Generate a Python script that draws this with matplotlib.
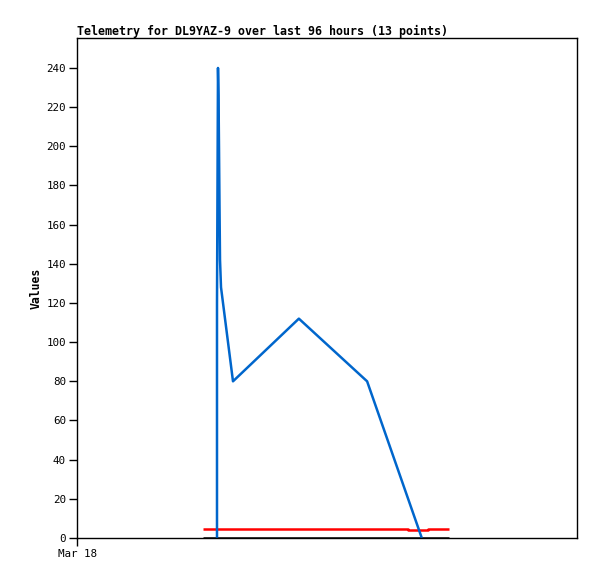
import matplotlib
matplotlib.use("Agg")
import matplotlib.pyplot as plt

# hours since Mar 18 00:00
blue_x = [26.88, 26.88, 27.07, 27.17, 27.27, 27.36, 27.46, 27.65, 29.95, 42.6, 55.7, 66.2]
blue_y = [0, 120, 240, 226, 198, 170, 142, 128, 80, 112, 80, 0]
red_x = [24.2, 58.0, 58.0, 63.6, 63.6, 67.4, 67.4, 69.9, 69.9, 71.4]
red_y = [4.8, 4.8, 4.4, 4.4, 3.9, 3.9, 4.4, 4.4, 4.8, 4.8]
black_x = [24.2, 71.4]
black_y = [0, 0]
xtick_pos = [0]
xtick_labels = ["Mar 18"]
ytick_vals = list(range(0, 241, 20))

W, H = 597, 579
fig = plt.figure(figsize=(W / 100, H / 100), dpi=100)
ax = fig.add_axes([77 / W, 1 - 538 / H, 500 / W, 500 / H])

font = ["DejaVu Sans Mono"]
ax.plot(black_x, black_y, color="black", lw=1.8, solid_capstyle="butt")
ax.plot(red_x, red_y, color="#ff0000", lw=1.8, solid_capstyle="butt")
ax.plot(blue_x, blue_y, color="#0066cc", lw=1.8, solid_capstyle="butt")

ax.set_xlim(0, 96)
ax.set_ylim(0, 255.3)
ax.set_yticks(ytick_vals)
ax.set_yticklabels([str(v) for v in ytick_vals], fontsize=7.8, family=font)
ax.set_xticks(xtick_pos)
ax.set_xticklabels(xtick_labels, fontsize=7.8, family=font)
ax.tick_params(direction="out", length=6, width=1, pad=2)
for s in ax.spines.values():
    s.set_linewidth(1)
ax.set_ylabel("Values", fontsize=8.3, fontweight="bold", family=font, labelpad=3)
fig.text(77 / W, 1 - 35 / H, "Telemetry for DL9YAZ-9 over last 96 hours (13 points)",
         fontsize=8.35, fontweight="bold", family=font, ha="left", va="baseline")
fig.savefig("out.png", dpi=100)
